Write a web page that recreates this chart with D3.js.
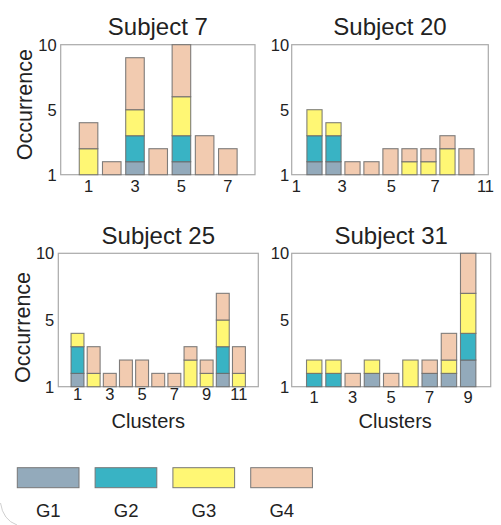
<!DOCTYPE html>
<meta charset="utf-8">
<style>
  body {margin: 0; background: #fff;}
  svg text {font-family: 'Liberation Sans', Arial, sans-serif; fill: #222;}
</style>
<svg width="501" height="525"></svg>
<script src="https://cdn.jsdelivr.net/npm/d3@7"></script>
<script>

// occurrence per cluster, one array per group
var groups = ["G1", "G2", "G3", "G4"];
var colors = ["#93aabb", "#39b3c4", "#fff774", "#f2cbb0"];

var s7_G1 = [0, 0, 1, 0, 1, 0, 0];
var s7_G2 = [0, 0, 2, 0, 2, 0, 0];
var s7_G3 = [2, 0, 2, 0, 3, 0, 0];
var s7_G4 = [2, 1, 4, 2, 4, 3, 2];

var s20_G1 = [1, 1, 0, 0, 0, 0, 0, 0, 0];
var s20_G2 = [2, 2, 0, 0, 0, 0, 0, 0, 0];
var s20_G3 = [2, 1, 0, 0, 0, 1, 1, 2, 0];
var s20_G4 = [0, 0, 1, 1, 2, 1, 1, 1, 2];

var s25_G1 = [1, 0, 0, 0, 0, 0, 0, 0, 0, 1, 0];
var s25_G2 = [2, 0, 0, 0, 0, 0, 0, 0, 0, 2, 0];
var s25_G3 = [1, 1, 0, 0, 0, 0, 0, 2, 1, 2, 1];
var s25_G4 = [0, 2, 1, 2, 2, 1, 1, 1, 1, 2, 2];

var s31_G1 = [0, 0, 0, 1, 0, 0, 1, 1, 2];
var s31_G2 = [1, 1, 0, 0, 0, 0, 0, 0, 2];
var s31_G3 = [1, 1, 0, 1, 0, 2, 0, 1, 3];
var s31_G4 = [0, 0, 1, 0, 1, 0, 1, 2, 3];

// tick positions (cluster units) and their labels
var s7_xticks = [1, 3, 5, 7],           s7_xlabels = ["1", "3", "5", "7"];
var s20_xticks = [0.05, 2.45, 5.05, 7.35, 10], s20_xlabels = ["1", "3", "5", "7", "11"];
var s25_xticks = [1, 3, 5, 7, 9, 11],   s25_xlabels = ["1", "3", "5", "7", "9", "11"];
var s31_xticks = [1, 3, 5, 7, 9],       s31_xlabels = ["1", "3", "5", "7", "9"];
var yticks = [0, 5, 10], ylabels = ["1", "5", "10"];

var panels = [
  {title: "Subject 7", data: [s7_G1, s7_G2, s7_G3, s7_G4], xt: s7_xticks, xl: s7_xlabels,
   box: [60.7, 44.7, 255, 174.7], xdom: [-0.2, 8.17], ylab: true, xlab: false, tickGap: 17},
  {title: "Subject 20", data: [s20_G1, s20_G2, s20_G3, s20_G4], xt: s20_xticks, xl: s20_xlabels,
   box: [291.7, 44.7, 488.3, 174.7], xdom: [-0.2, 10.15], ylab: false, xlab: false, tickGap: 17},
  {title: "Subject 25", data: [s25_G1, s25_G2, s25_G3, s25_G4], xt: s25_xticks, xl: s25_xlabels,
   box: [58.3, 253.3, 258.3, 386.7], xdom: [-0.19, 12.2], ylab: true, xlab: true, tickGap: 13.3},
  {title: "Subject 31", data: [s31_G1, s31_G2, s31_G3, s31_G4], xt: s31_xticks, xl: s31_xlabels,
   box: [291.7, 253.3, 490.7, 386.7], xdom: [-0.17, 10.17], ylab: false, xlab: true, tickGap: 16.6}
];

var svg = d3.select("svg");

// faint rounded corner of the figure frame, lower left
svg.append("path")
    .attr("d", "M0.5,503 Q3,520 17,525")
    .style("fill", "none").style("stroke", "#cfcfcf").style("stroke-width", 1);

var color = d3.scaleOrdinal().domain(groups).range(colors);

panels.forEach(function(p) {
  var l = p.box[0], t = p.box[1], r = p.box[2], b = p.box[3];
  var x = d3.scaleLinear().domain(p.xdom).range([l, r]);
  var y = d3.scaleLinear().domain([0, 10]).range([b, t]);

  var rows = p.data[0].map(function(_, i) {
    var o = {cluster: i + 1};
    groups.forEach(function(g, k) { o[g] = p.data[k][i]; });
    return o;
  });
  var series = d3.stack().keys(groups)(rows);

  var g = svg.append("g");

  g.append("rect")
      .attr("x", l).attr("y", t).attr("width", r - l).attr("height", b - t)
      .style("fill", "#fff").style("stroke", "#a9a9a9").style("stroke-width", 1.2);

  var bw = x(0.8) - x(0);
  g.selectAll("g.layer")
    .data(series)
    .enter().append("g")
      .attr("class", "layer")
      .style("fill", function(d) { return color(d.key); })
    .selectAll("rect")
    .data(function(d) { return d.filter(function(s) { return s[1] > s[0]; }); })
    .enter().append("rect")
      .attr("x", function(d) { return x(d.data.cluster) - bw / 2; })
      .attr("y", function(d) { return y(d[1]); })
      .attr("width", bw)
      .attr("height", function(d) { return y(d[0]) - y(d[1]); })
      .style("stroke", "#6a6a6a").style("stroke-width", 1.1).style("stroke-opacity", 0.85);

  // x tick labels
  g.selectAll("text.xt")
    .data(p.xt)
    .enter().append("text")
      .attr("x", function(d) { return x(d); })
      .attr("y", b + p.tickGap)
      .attr("text-anchor", "middle")
      .style("font-size", "16.5px")
      .text(function(d, i) { return p.xl[i]; });

  // y tick labels
  g.selectAll("text.yt")
    .data(yticks)
    .enter().append("text")
      .attr("x", l - (p.ylab ? 4 : 2.5))
      .attr("y", function(d) { return y(d); })
      .attr("dy", "0.36em")
      .attr("text-anchor", "end")
      .style("font-size", "16.5px")
      .text(function(d, i) { return ylabels[i]; });

  g.append("text")
      .attr("x", (l + r) / 2)
      .attr("y", t - 9.7)
      .attr("text-anchor", "middle")
      .style("font-size", "24px")
      .text(p.title);

  if (p.ylab) {
    var cy = t < 100 ? 104.7 : 327.5;
    g.append("text")
        .attr("transform", "translate(" + (l - 28.5) + "," + cy + ") rotate(-90)")
        .attr("text-anchor", "middle")
        .style("font-size", "21.5px")
        .text("Occurrence");
  }
  if (p.xlab) {
    g.append("text")
        .attr("x", (l + r) / 2 - (p.ylab ? 10 : -4))
        .attr("y", 428)
        .attr("text-anchor", "middle")
        .style("font-size", "20px")
        .text("Clusters");
  }
});

// legend
var lx = d3.scaleBand().domain(groups).range([17.3, 315.3]).paddingInner(0.17);
var legend = svg.append("g");
legend.selectAll("rect")
  .data(groups)
  .enter().append("rect")
    .attr("x", function(d) { return lx(d); })
    .attr("y", 467.7)
    .attr("width", 61.7)
    .attr("height", 20)
    .style("fill", function(d) { return color(d); })
    .style("stroke", "#777").style("stroke-width", 1);
legend.selectAll("text")
  .data(groups)
  .enter().append("text")
    .attr("x", function(d) { return lx(d) + 31; })
    .attr("y", 516.7)
    .attr("text-anchor", "middle")
    .style("font-size", "18.5px")
    .text(function(d) { return d; });

</script>
